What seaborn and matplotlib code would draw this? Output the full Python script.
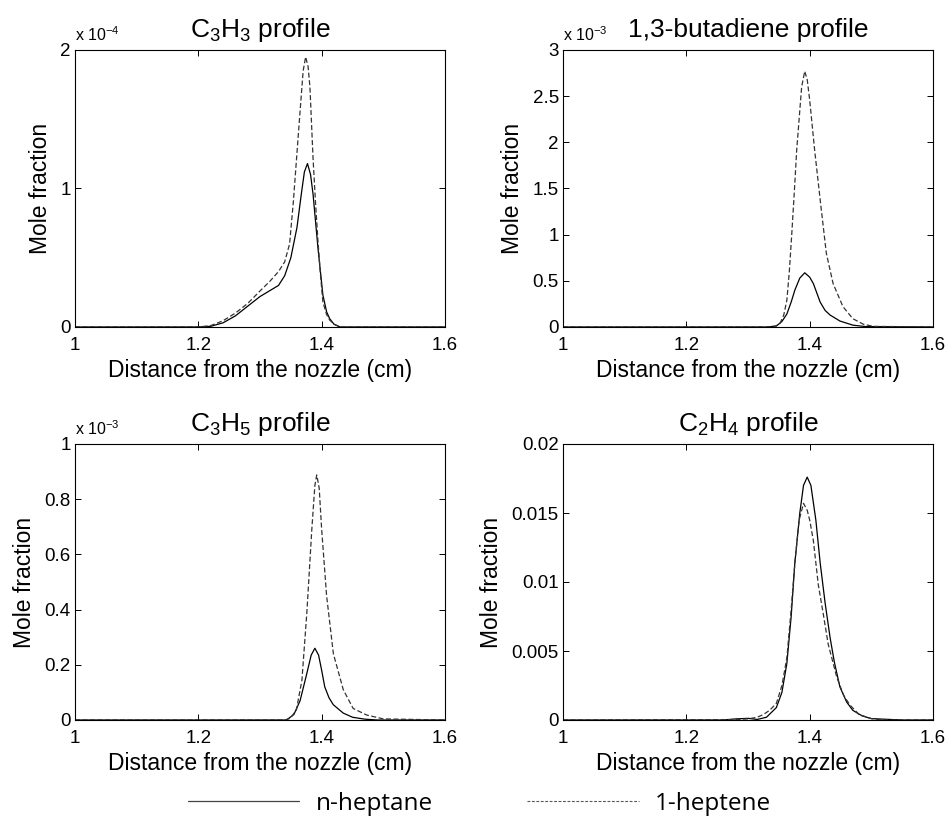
import numpy as np
import pandas as pd
import matplotlib
matplotlib.use("Agg")
import matplotlib.pyplot as plt
from matplotlib.ticker import FuncFormatter, FixedLocator
from matplotlib.lines import Line2D
import seaborn as sns

# ---------------- data ----------------
fuels = ["n-heptane", "1-heptene"]
titles = [r"C$_3$H$_3$ profile", "1,3-butadiene profile",
          r"C$_3$H$_5$ profile", r"C$_2$H$_4$ profile"]
offset_labels = [r"x 10$^{-4}$", r"x 10$^{-3}$", r"x 10$^{-3}$", None]
yticks_list = [[0, 1, 2], [0, 0.5, 1, 1.5, 2, 2.5, 3],
               [0, 0.2, 0.4, 0.6, 0.8, 1], [0, 0.005, 0.01, 0.015, 0.02]]
xticks = [1.0, 1.2, 1.4, 1.6]

# C3H3 (units of 1e-4)
c3h3_nhep_x = [1.00, 1.20, 1.22, 1.24, 1.26, 1.28, 1.30, 1.315, 1.33, 1.34, 1.35, 1.36,
               1.367, 1.372, 1.377, 1.382, 1.386, 1.394, 1.402, 1.408, 1.413, 1.42, 1.43, 1.60]
c3h3_nhep_y = [0, 0, 0.005, 0.03, 0.08, 0.15, 0.22, 0.26, 0.30, 0.37, 0.50, 0.72,
               0.96, 1.12, 1.18, 1.10, 0.96, 0.57, 0.23, 0.11, 0.06, 0.02, 0, 0]
c3h3_hept_x = [1.00, 1.20, 1.22, 1.24, 1.26, 1.28, 1.30, 1.316, 1.33, 1.34, 1.348, 1.354,
               1.359, 1.364, 1.37, 1.374, 1.378, 1.381, 1.386, 1.39, 1.394, 1.398, 1.402,
               1.408, 1.413, 1.42, 1.43, 1.60]
c3h3_hept_y = [0, 0, 0.01, 0.045, 0.10, 0.17, 0.26, 0.33, 0.40, 0.47, 0.60, 0.90,
               1.20, 1.50, 1.85, 1.95, 1.88, 1.73, 1.22, 0.90, 0.62, 0.38, 0.18,
               0.09, 0.05, 0.02, 0, 0]

# 1,3-butadiene (units of 1e-3)
but_nhep_x = [1.00, 1.33, 1.346, 1.355, 1.363, 1.37, 1.376, 1.384, 1.392, 1.40, 1.406,
              1.417, 1.425, 1.433, 1.449, 1.47, 1.49, 1.60]
but_nhep_y = [0, 0, 0.01, 0.06, 0.14, 0.27, 0.40, 0.53, 0.587, 0.54, 0.47,
              0.27, 0.18, 0.13, 0.065, 0.02, 0.005, 0]
but_hept_x = [1.00, 1.33, 1.345, 1.352, 1.358, 1.363, 1.367, 1.371, 1.375, 1.379, 1.387,
              1.392, 1.396, 1.40, 1.408, 1.417, 1.427, 1.438, 1.454, 1.47, 1.487,
              1.503, 1.60]
but_hept_y = [0, 0, 0.01, 0.04, 0.13, 0.29, 0.60, 1.01, 1.45, 1.92, 2.60,
              2.77, 2.68, 2.46, 1.92, 1.38, 0.80, 0.47, 0.22, 0.09, 0.03,
              0.007, 0]

# C3H5 (units of 1e-3)
c3h5_nhep_x = [1.00, 1.343, 1.355, 1.365, 1.375, 1.383, 1.389, 1.395, 1.40, 1.405,
               1.412, 1.419, 1.435, 1.45, 1.47, 1.49, 1.60]
c3h5_nhep_y = [0, 0, 0.02, 0.07, 0.16, 0.235, 0.26, 0.235, 0.18, 0.12,
               0.08, 0.055, 0.025, 0.01, 0.003, 0, 0]
c3h5_hept_x = [1.00, 1.34, 1.349, 1.359, 1.368, 1.376, 1.384, 1.389, 1.392, 1.396,
               1.40, 1.408, 1.419, 1.435, 1.451, 1.473, 1.50, 1.60]
c3h5_hept_y = [0, 0, 0.006, 0.036, 0.145, 0.39, 0.69, 0.85, 0.888, 0.84,
               0.69, 0.45, 0.24, 0.11, 0.042, 0.018, 0.004, 0]

# C2H4 (mole fraction)
c2h4_nhep_x = [1.00, 1.26, 1.28, 1.30, 1.315, 1.33, 1.346, 1.355, 1.363, 1.37, 1.376,
               1.384, 1.39, 1.396, 1.402, 1.41, 1.417, 1.425, 1.433, 1.44, 1.449,
               1.46, 1.47, 1.485, 1.50, 1.55, 1.60]
c2h4_nhep_y = [0, 0, 0.00008, 0.00012, 0.00004, 0.0002, 0.0009, 0.002, 0.0041, 0.0075,
               0.0114, 0.015, 0.0170, 0.0176, 0.0170, 0.0145, 0.0114, 0.0085, 0.006,
               0.0042, 0.0024, 0.0013, 0.0007, 0.0003, 0.0001, 0, 0]
c2h4_hept_x = [1.00, 1.28, 1.30, 1.315, 1.325, 1.335, 1.346, 1.355, 1.363, 1.37, 1.376,
               1.383, 1.39, 1.396, 1.40, 1.406, 1.414, 1.422, 1.43, 1.444, 1.455,
               1.465, 1.48, 1.50, 1.52, 1.60]
c2h4_hept_y = [0, 0.00003, 0.00008, 0.0002, 0.0004, 0.0007, 0.0012, 0.0025, 0.0045,
               0.008, 0.0114, 0.0145, 0.0157, 0.0152, 0.0145, 0.013, 0.0098, 0.0077,
               0.0055, 0.0031, 0.0018, 0.0011, 0.0004, 0.0001, 0, 0]

panels = [
    ((c3h3_nhep_x, c3h3_nhep_y), (c3h3_hept_x, c3h3_hept_y)),
    ((but_nhep_x, but_nhep_y), (but_hept_x, but_hept_y)),
    ((c3h5_nhep_x, c3h5_nhep_y), (c3h5_hept_x, c3h5_hept_y)),
    ((c2h4_nhep_x, c2h4_nhep_y), (c2h4_hept_x, c2h4_hept_y)),
]

# ---------------- styling ----------------
sns.set_theme(style="white")
plt.rcParams["font.family"] = ["Liberation Sans", "DejaVu Sans"]
plt.rcParams["mathtext.fontset"] = "custom"
plt.rcParams["mathtext.rm"] = "Liberation Sans"
plt.rcParams["mathtext.default"] = "regular"
plt.rcParams["text.color"] = "black"
plt.rcParams["axes.labelcolor"] = "black"

fig = plt.figure(figsize=(9.47, 8.18), dpi=100)
W, H = 947.0, 818.0
boxes = [(75, 50, 445, 327), (563, 50, 933, 327),
         (75, 444, 445, 720), (563, 444, 933, 720)]

styles = {"n-heptane": dict(color="black", linestyle="-", linewidth=0.9),
          "1-heptene": dict(color="#333333", linestyle=(0, (4, 2)), linewidth=0.9)}

for i, (l, t, r, b) in enumerate(boxes):
    ax = fig.add_axes([l / W, 1 - b / H, (r - l) / W, (b - t) / H])
    for fuel, (xs, ys) in zip(fuels, panels[i]):
        df = pd.DataFrame({"x": xs, "y": ys})
        sns.lineplot(data=df, x="x", y="y", ax=ax, sort=False, estimator=None,
                     **styles[fuel])
    ax.set_xlim(1.0, 1.6)
    yt = yticks_list[i]
    ax.set_ylim(yt[0], yt[-1])
    ax.xaxis.set_major_locator(FixedLocator(xticks))
    ax.yaxis.set_major_locator(FixedLocator(yt))
    fmt = FuncFormatter(lambda v, p: "%g" % v)
    ax.xaxis.set_major_formatter(fmt)
    ax.yaxis.set_major_formatter(fmt)
    ax.tick_params(direction="in", length=4, width=0.7, colors="black",
                   labelsize=13.5, top=True, right=True, bottom=True, left=True)
    ax.tick_params(axis="x", pad=7)
    ax.tick_params(axis="y", pad=3)
    for s in ax.spines.values():
        s.set_color("black")
        s.set_linewidth(0.8)
        s.set_visible(True)
    ax.set_xlabel("Distance from the nozzle (cm)", fontsize=16.5, labelpad=4,
                  color="black")
    ax.set_ylabel("Mole fraction", fontsize=16.5, labelpad=6, color="black")
    ax.set_title(titles[i], fontsize=19, pad=9, color="black")
    if offset_labels[i]:
        ax.text(0.0, 1.02, offset_labels[i], transform=ax.transAxes,
                ha="left", va="bottom", fontsize=11.5, color="black")

handles = [Line2D([], [], color="#444444", linestyle="-", linewidth=0.9),
           Line2D([], [], color="#555555", linestyle=(0, (2.5, 1.5)), linewidth=0.8)]
leg = fig.legend(handles, fuels, loc="center", bbox_to_anchor=(0.506, 1 - 804 / H),
                 ncol=2, frameon=False, handlelength=4.6,
                 handletextpad=0.66, columnspacing=3.87,
                 prop={"family": ["Open Sans", "DejaVu Sans"], "size": 17.5})
for txt in leg.get_texts():
    txt.set_color("black")

fig.savefig("out.png", dpi=100)
